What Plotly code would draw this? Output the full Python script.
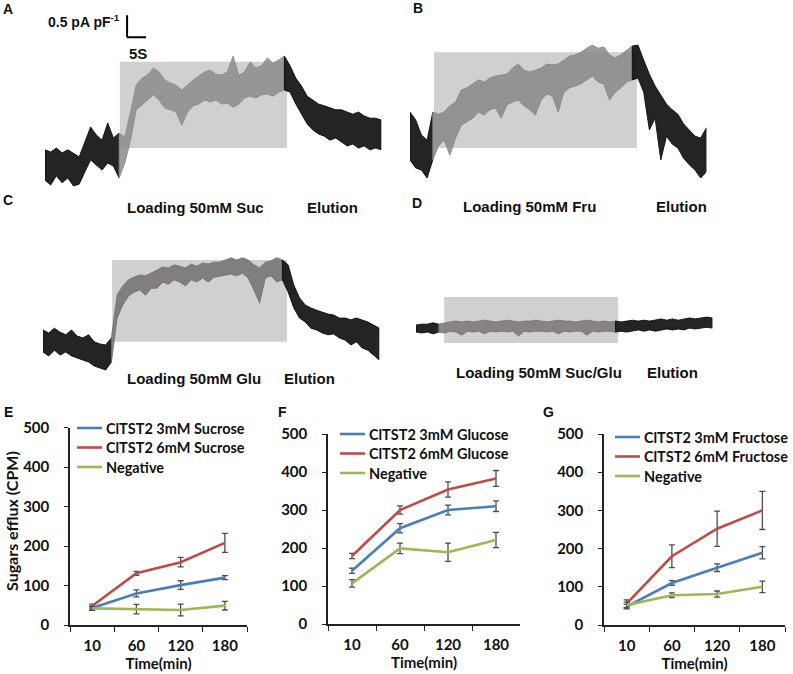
import numpy as np
import plotly.graph_objects as go

W, H = 793, 674

# ---------------- patch-clamp recordings (current in pA/pF, sampled every 1.5 s) ----------------
DT = 1.5          # s between samples
PX_PER_S = 3.8    # horizontal scale of the recordings (5 s scale bar)
PX_PER_UNIT = 44  # vertical scale (0.5 pA/pF scale bar = 22 px)

A_hi = [1.14, 1.09, 1.18, 1.07, 1.14, 1.05, 0.98, 1.32, 1.66, 1.48,
        1.36, 1.75, 1.41, 1.52, 1.43, 2.00, 2.61, 2.77, 2.84, 3.00,
        2.91, 2.73, 2.66, 2.61, 2.50, 2.61, 2.73, 2.82, 2.91, 2.95,
        2.86, 2.84, 2.91, 3.27, 2.84, 2.91, 3.14, 3.00, 3.05, 3.23,
        3.11, 3.18, 3.27, 3.05, 2.77, 2.59, 2.36, 2.27, 2.18, 2.14,
        2.09, 2.05, 2.05, 2.00, 1.95, 2.00, 1.91, 1.86, 1.86, 1.82]
A_lo = [0.45, 0.34, 0.55, 0.39, 0.50, 0.32, 0.36, 0.64, 0.91, 0.80,
        0.68, 0.84, 0.77, 0.50, 0.84, 1.36, 2.05, 2.16, 2.27, 2.39,
        2.27, 2.09, 2.05, 2.00, 1.70, 2.00, 2.14, 2.18, 2.27, 2.23,
        2.27, 2.18, 2.20, 2.11, 2.18, 2.32, 2.36, 2.32, 2.39, 2.41,
        2.36, 2.45, 2.50, 2.45, 2.18, 1.95, 1.73, 1.59, 1.50, 1.45,
        1.36, 1.41, 1.32, 1.23, 1.27, 1.18, 1.23, 1.14, 1.18, 1.14]
B_hi = [2.00, 1.82, 1.48, 1.36, 2.00, 1.95, 2.00, 2.14, 2.23, 2.50,
        2.55, 2.64, 2.73, 2.68, 2.77, 2.82, 2.84, 2.86, 3.00, 3.09,
        2.95, 2.91, 2.95, 3.00, 3.09, 3.07, 3.09, 3.18, 3.27, 3.30,
        3.36, 3.45, 3.52, 3.45, 3.48, 3.30, 3.23, 3.30, 3.41, 3.50,
        3.52, 3.18, 2.86, 2.59, 2.39, 2.18, 2.05, 1.95, 1.73, 1.59,
        1.45, 1.41, 1.64]
B_lo = [0.91, 0.73, 0.68, 0.50, 0.91, 1.23, 1.36, 1.02, 1.41, 1.70,
        1.77, 1.86, 2.00, 1.93, 2.05, 2.09, 1.86, 2.16, 2.23, 2.27,
        2.14, 2.05, 1.93, 2.27, 2.41, 2.36, 2.00, 2.45, 2.55, 2.59,
        2.64, 2.73, 2.82, 2.68, 2.64, 2.27, 2.45, 2.55, 2.68, 2.73,
        2.77, 2.45, 1.59, 1.86, 0.91, 1.45, 1.27, 1.18, 0.95, 0.80,
        0.68, 0.50, 0.64]
C_hi = [0.91, 0.84, 0.95, 0.86, 0.80, 0.91, 0.77, 0.73, 0.80, 0.64,
        0.59, 0.57, 0.73, 1.70, 1.91, 2.05, 2.11, 2.16, 2.14, 2.20,
        2.27, 2.34, 2.32, 2.39, 2.36, 2.32, 2.41, 2.36, 2.43, 2.41,
        2.45, 2.45, 2.50, 2.55, 2.50, 2.55, 2.50, 2.39, 2.32, 2.45,
        2.48, 2.55, 2.50, 2.39, 1.93, 1.64, 1.48, 1.41, 1.36, 1.32,
        1.27, 1.25, 1.18, 1.18, 1.14, 1.18, 1.14, 1.09, 1.02, 0.95]
C_lo = [0.41, 0.32, 0.45, 0.34, 0.41, 0.32, 0.27, 0.23, 0.18, 0.09,
        0.05, 0.00, 0.18, 1.18, 1.48, 1.68, 1.77, 1.82, 1.70, 1.86,
        1.86, 2.00, 1.95, 2.05, 2.00, 1.91, 2.05, 2.00, 2.09, 2.00,
        2.11, 2.14, 2.16, 2.18, 2.14, 2.20, 2.09, 1.82, 1.52, 2.09,
        2.14, 2.00, 2.05, 1.77, 1.41, 1.18, 1.09, 0.95, 0.91, 0.84,
        0.80, 0.82, 0.73, 0.68, 0.57, 0.64, 0.50, 0.45, 0.34, 0.23]
D_hi = [0.34, 0.36, 0.36, 0.39, 0.36, 0.39, 0.41, 0.43, 0.41, 0.43,
        0.41, 0.43, 0.45, 0.43, 0.41, 0.43, 0.45, 0.43, 0.41, 0.43,
        0.43, 0.45, 0.43, 0.41, 0.43, 0.45, 0.43, 0.43, 0.41, 0.43,
        0.45, 0.43, 0.41, 0.43, 0.41, 0.43, 0.41, 0.43, 0.45, 0.43,
        0.45, 0.43, 0.45, 0.48, 0.45, 0.48, 0.45, 0.48, 0.50, 0.48,
        0.50, 0.52, 0.50]
D_lo = [0.18, 0.16, 0.18, 0.14, 0.18, 0.16, 0.20, 0.18, 0.11, 0.20,
        0.18, 0.20, 0.14, 0.20, 0.18, 0.20, 0.18, 0.20, 0.09, 0.20,
        0.18, 0.20, 0.20, 0.18, 0.20, 0.14, 0.20, 0.18, 0.20, 0.20,
        0.11, 0.20, 0.18, 0.20, 0.20, 0.18, 0.20, 0.18, 0.20, 0.23,
        0.20, 0.23, 0.20, 0.23, 0.25, 0.23, 0.25, 0.23, 0.27, 0.25,
        0.27, 0.29, 0.27]

# loading windows (s) and shaded-box current extent (pA/pF)
LOAD_T = {"A": (19.7, 63.7), "B": (6.3, 59.7), "C": (18.2, 64.2), "D": (7.4, 53.2)}
LOAD_I = {"A": (1.18, 3.14), "B": (1.18, 3.36), "C": (0.64, 2.50), "D": (-0.07, 0.98)}
LOAD_TEXT = {"A": "Loading 50mM Suc", "B": "Loading 50mM Fru",
             "C": "Loading 50mM Glu", "D": "Loading 50mM Suc/Glu"}
SCALE_T, SCALE_I = 5, 0.5   # scale bar: 5 s, 0.5 pA/pF

# ---------------- efflux assays (CPM) ----------------
TIME_LABELS = ["10", "60", "120", "180"]
E_3 = [43, 80, 101, 120];   E_3e = [5, 9, 11, 5]
E_6 = [48, 131, 159, 208];  E_6e = [5, 5, 12, 24]
E_n = [42, 40, 38, 49];     E_ne = [5, 12, 15, 11]
F_3 = [140, 252, 300, 310]; F_3e = [7, 12, 13, 14]
F_6 = [179, 300, 354, 383]; F_6e = [7, 11, 20, 21]
F_n = [107, 199, 189, 221]; F_ne = [10, 14, 24, 20]
G_3 = [48, 110, 150, 189];  G_3e = [6, 6, 10, 16]
G_6 = [56, 180, 252, 300];  G_6e = [10, 30, 46, 50]
G_n = [52, 78, 81, 100];    G_ne = [8, 6, 8, 15]

BLUE, RED, GREEN = "#4A7EBB", "#BE4B48", "#98B954"
TOPFONT = "Liberation Sans, Arial, sans-serif"
BOTFONT = "Lato, Open Sans, sans-serif"

fig = go.Figure()

# ---------- top recordings ----------
top = [  # key, hi, lo, axis idx, x0 px, base px, y range, loading colour (rgb)
    ("A", A_hi, A_lo, 1, 45, 200, [-0.45, 4.3], (140, 140, 140)),
    ("B", B_hi, B_lo, 2, 410, 200, [-0.3, 3.9], (136, 136, 136)),
    ("C", C_hi, C_lo, 3, 43, 370, [-0.3, 3.0], (118, 112, 112)),
    ("D", D_hi, D_lo, 4, 416, 340, [-0.4, 1.3], (122, 117, 117)),
]
DARK = (12, 12, 12)
for key, hi, lo, k, x0, base, yr, lcol in top:
    hi = np.array(hi); lo = np.array(lo)
    assert len(hi) == len(lo)
    t = np.arange(len(hi)) * DT
    t_on, t_off = LOAD_T[key]
    i_on = int(np.searchsorted(t, t_on)); i_off = int(np.searchsorted(t, t_off))
    segs = [(slice(0, i_on), DARK, 0.9), (slice(i_on - 1, i_off), lcol, 0.85),
            (slice(i_off - 1, len(t)), DARK, 0.9)]
    xa = "x" if k == 1 else f"x{k}"; ya = "y" if k == 1 else f"y{k}"
    for sl, (r, g, b), alpha in segs:
        ts, hs, ls = t[sl], hi[sl], lo[sl]
        fig.add_trace(go.Scatter(
            x=np.concatenate([ts, ts[::-1], ts[:1]]),
            y=np.concatenate([hs, ls[::-1], hs[:1]]),
            mode="lines", fill="toself", fillcolor=f"rgba({r},{g},{b},{alpha})",
            line=dict(color=f"rgb({r},{g},{b})", width=0.9),
            xaxis=xa, yaxis=ya, showlegend=False, hoverinfo="skip"))
    t_end = t[-1]
    axn = "" if k == 1 else str(k)
    fig.update_layout(**{
        f"xaxis{axn}": dict(domain=[x0 / W, (x0 + t_end * PX_PER_S) / W], range=[0, t_end],
                            visible=False, anchor=ya, automargin=False),
        f"yaxis{axn}": dict(domain=[1 - (base - yr[0] * PX_PER_UNIT) / H,
                                    1 - (base - yr[1] * PX_PER_UNIT) / H],
                            range=yr, visible=False, anchor=xa, automargin=False),
    })
    fig.add_shape(type="rect", xref=xa, yref=ya, x0=t_on, x1=t_off,
                  y0=LOAD_I[key][0], y1=LOAD_I[key][1],
                  fillcolor="#d0d0d0", line=dict(width=0), layer="below")

# scale bar in panel A
sb_t, sb_i = 21.6, 3.70
fig.add_shape(type="line", xref="x", yref="y", x0=sb_t, x1=sb_t, y0=sb_i, y1=sb_i + SCALE_I,
              line=dict(color="black", width=2))
fig.add_shape(type="line", xref="x", yref="y", x0=sb_t, x1=sb_t + SCALE_T, y0=sb_i, y1=sb_i,
              line=dict(color="black", width=2))


def ann(text, xpx, ypx, size, family, xanchor="center", weight="bold", angle=0, color="#111"):
    fig.add_annotation(text=text, x=xpx / W, y=1 - ypx / H, xref="paper", yref="paper",
                       xanchor=xanchor, yanchor="middle", showarrow=False, textangle=angle,
                       font=dict(size=size, family=family, color=color, weight=weight))


ann("0.5 pA pF<sup>-1</sup>", 122, 21, 14, TOPFONT, xanchor="right")
ann("5S", 127, 54, 15, TOPFONT, xanchor="left")
for key, cx, cy, ex in [("A", 195, 207, 332), ("B", 529, 206, 681),
                        ("C", 194, 378, 309), ("D", 539, 373, 672)]:
    ann(LOAD_TEXT[key], cx, cy, 15, TOPFONT)
    ann("Elution", ex, cy, 15, TOPFONT)

for letter, xp, yp in [("A", 8, 9), ("B", 418, 8), ("C", 8, 200), ("D", 417, 203),
                       ("E", 8, 412), ("F", 282, 412), ("G", 548, 412)]:
    ann(letter, xp, yp, 14, TOPFONT)

# ---------- bottom efflux panels ----------
bottom = [  # axis idx, x domain px, y px (0, 500), sugar, data, legend line x / first row y
    (5, (70, 247), (625, 427.5), "Sucrose", (E_3, E_3e, E_6, E_6e, E_n, E_ne), (77, 428)),
    (6, (328, 520), (624, 434), "Glucose", (F_3, F_3e, F_6, F_6e, F_n, F_ne), (340, 434)),
    (7, (604, 785), (625, 434), "Fructose", (G_3, G_3e, G_6, G_6e, G_n, G_ne), (615, 437)),
]
AXCOL = "#222"
for k, (xl, xr), (y0, y5), sugar, d, (lx, ly) in bottom:
    v3, e3, v6, e6, vn, en = d
    series = [(f"ClTST2 3mM {sugar}", v3, e3, BLUE),
              (f"ClTST2 6mM {sugar}", v6, e6, RED),
              ("Negative", vn, en, GREEN)]
    for j, (name, vals, errs, col) in enumerate(series):
        fig.add_trace(go.Scatter(
            x=TIME_LABELS, y=vals, mode="lines", name=name,
            line=dict(color=col, width=2.6),
            error_y=dict(type="data", array=errs, color="#4d4d4d", thickness=1.3, width=3),
            xaxis=f"x{k}", yaxis=f"y{k}", showlegend=False))
        # legend entry (key line + label)
        ry = ly + j * 19.5
        fig.add_shape(type="line", xref="paper", yref="paper", x0=lx / W, x1=(lx + 25) / W,
                      y0=1 - ry / H, y1=1 - ry / H, line=dict(color=col, width=2.6))
        ann(name, lx + 27, ry, 14.5, BOTFONT, xanchor="left")
    fig.update_layout(**{
        f"xaxis{k}": dict(domain=[xl / W, xr / W], type="category", categoryorder="array",
                          categoryarray=TIME_LABELS, range=[-0.5, 3.5], tickson="boundaries",
                          showline=True, linecolor=AXCOL, linewidth=1.5, ticks="outside",
                          ticklen=5, tickwidth=1.3, tickcolor=AXCOL, showgrid=False,
                          zeroline=False, anchor=f"y{k}", ticklabelstandoff=6, automargin=False,
                          tickfont=dict(family=BOTFONT, size=15, color="#111", weight="bold"),
                          title=dict(text="Time(min)", standoff=0,
                                     font=dict(family=BOTFONT, size=15, color="#111", weight="bold"))),
        f"yaxis{k}": dict(domain=[1 - y0 / H, 1 - y5 / H], range=[0, 500], dtick=100,
                          showline=True, linecolor=AXCOL, linewidth=1.5, ticks="outside",
                          ticklen=4, tickwidth=1.3, tickcolor=AXCOL, showgrid=False,
                          zeroline=False, anchor=f"x{k}", ticklabelstandoff=12, automargin=False,
                          tickfont=dict(family=BOTFONT, size=15, color="#111", weight="bold")),
    })

ann("Sugars efflux (CPM)", 11, 521, 16, BOTFONT, angle=-90)

fig.update_layout(width=W, height=H, margin=dict(l=0, r=0, t=0, b=0, autoexpand=False),
                  paper_bgcolor="white", plot_bgcolor="white", showlegend=False)

# the page's default 8 px body margin would push the figure off the 793x674 window
fig.write_html("out.html", config={"displayModeBar": False},
               post_script="document.body.style.margin='0';")
